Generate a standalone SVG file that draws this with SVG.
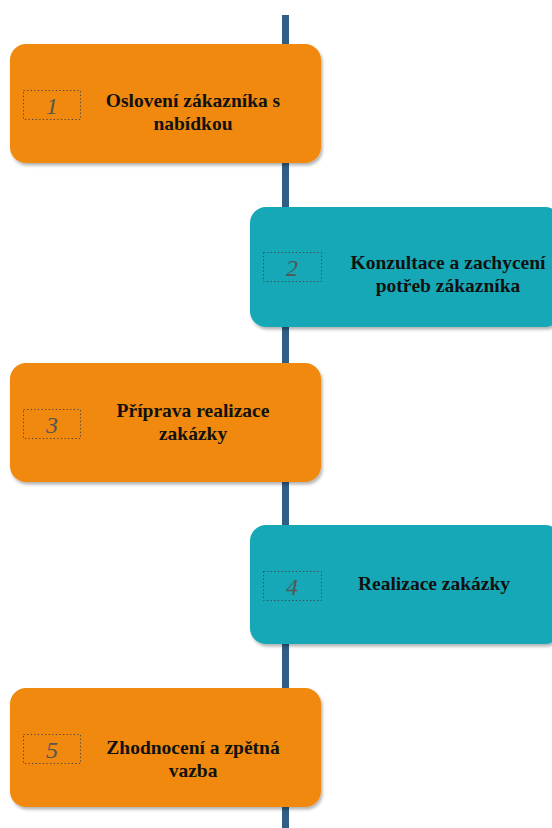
<svg xmlns="http://www.w3.org/2000/svg" width="552" height="828" viewBox="0 0 552 828">
<defs>
<filter id="sh" x="-10%" y="-10%" width="120%" height="130%">
<feDropShadow dx="1.5" dy="2.5" stdDeviation="1.5" flood-color="#000" flood-opacity="0.3"/>
</filter>
<style>
.o{fill:#f0890a;filter:url(#sh)}
.t{fill:#13a8b7;filter:url(#sh)}
.nb{fill:none;stroke:#444;stroke-width:1;stroke-dasharray:1.2 2.4}
.n{font-family:"Liberation Serif",serif;font-style:italic;font-size:24px;fill:#555;text-anchor:middle}
.l{font-family:"Liberation Serif",serif;font-weight:bold;font-size:19.5px;fill:#111;text-anchor:middle}
</style>
</defs>
<g id="connectors">
<line x1="285.5" y1="15" x2="285.5" y2="828" stroke="#2f5e86" stroke-width="7"/>
</g>
<g id="node1">
<rect class="o" x="10" y="44" width="311" height="119" rx="16"/>
<rect class="nb" x="23.5" y="90.5" width="57" height="29"/>
<text class="n" x="52" y="114">1</text>
<text class="l" x="193" y="107">Oslovení zákazníka s</text>
<text class="l" x="193" y="130">nabídkou</text>
</g>
<g id="node2">
<rect class="t" x="250" y="207" width="311" height="120" rx="16"/>
<rect class="nb" x="263.5" y="252.5" width="58" height="29"/>
<text class="n" x="292" y="276">2</text>
<text class="l" x="448" y="269">Konzultace a zachycení</text>
<text class="l" x="448" y="292">potřeb zákazníka</text>
</g>
<g id="node3">
<rect class="o" x="10" y="363" width="311" height="119" rx="16"/>
<rect class="nb" x="23.5" y="409.5" width="57" height="29"/>
<text class="n" x="52" y="433">3</text>
<text class="l" x="193" y="417">Příprava realizace</text>
<text class="l" x="193" y="440">zakázky</text>
</g>
<g id="node4">
<rect class="t" x="250" y="525" width="311" height="119" rx="16"/>
<rect class="nb" x="263.5" y="571.5" width="58" height="29"/>
<text class="n" x="292" y="595">4</text>
<text class="l" x="434" y="590">Realizace zakázky</text>
</g>
<g id="node5">
<rect class="o" x="10" y="688" width="311" height="119" rx="16"/>
<rect class="nb" x="23.5" y="734.5" width="57" height="29"/>
<text class="n" x="52" y="758">5</text>
<text class="l" x="193" y="754">Zhodnocení a zpětná</text>
<text class="l" x="193" y="777">vazba</text>
</g>
</svg>
